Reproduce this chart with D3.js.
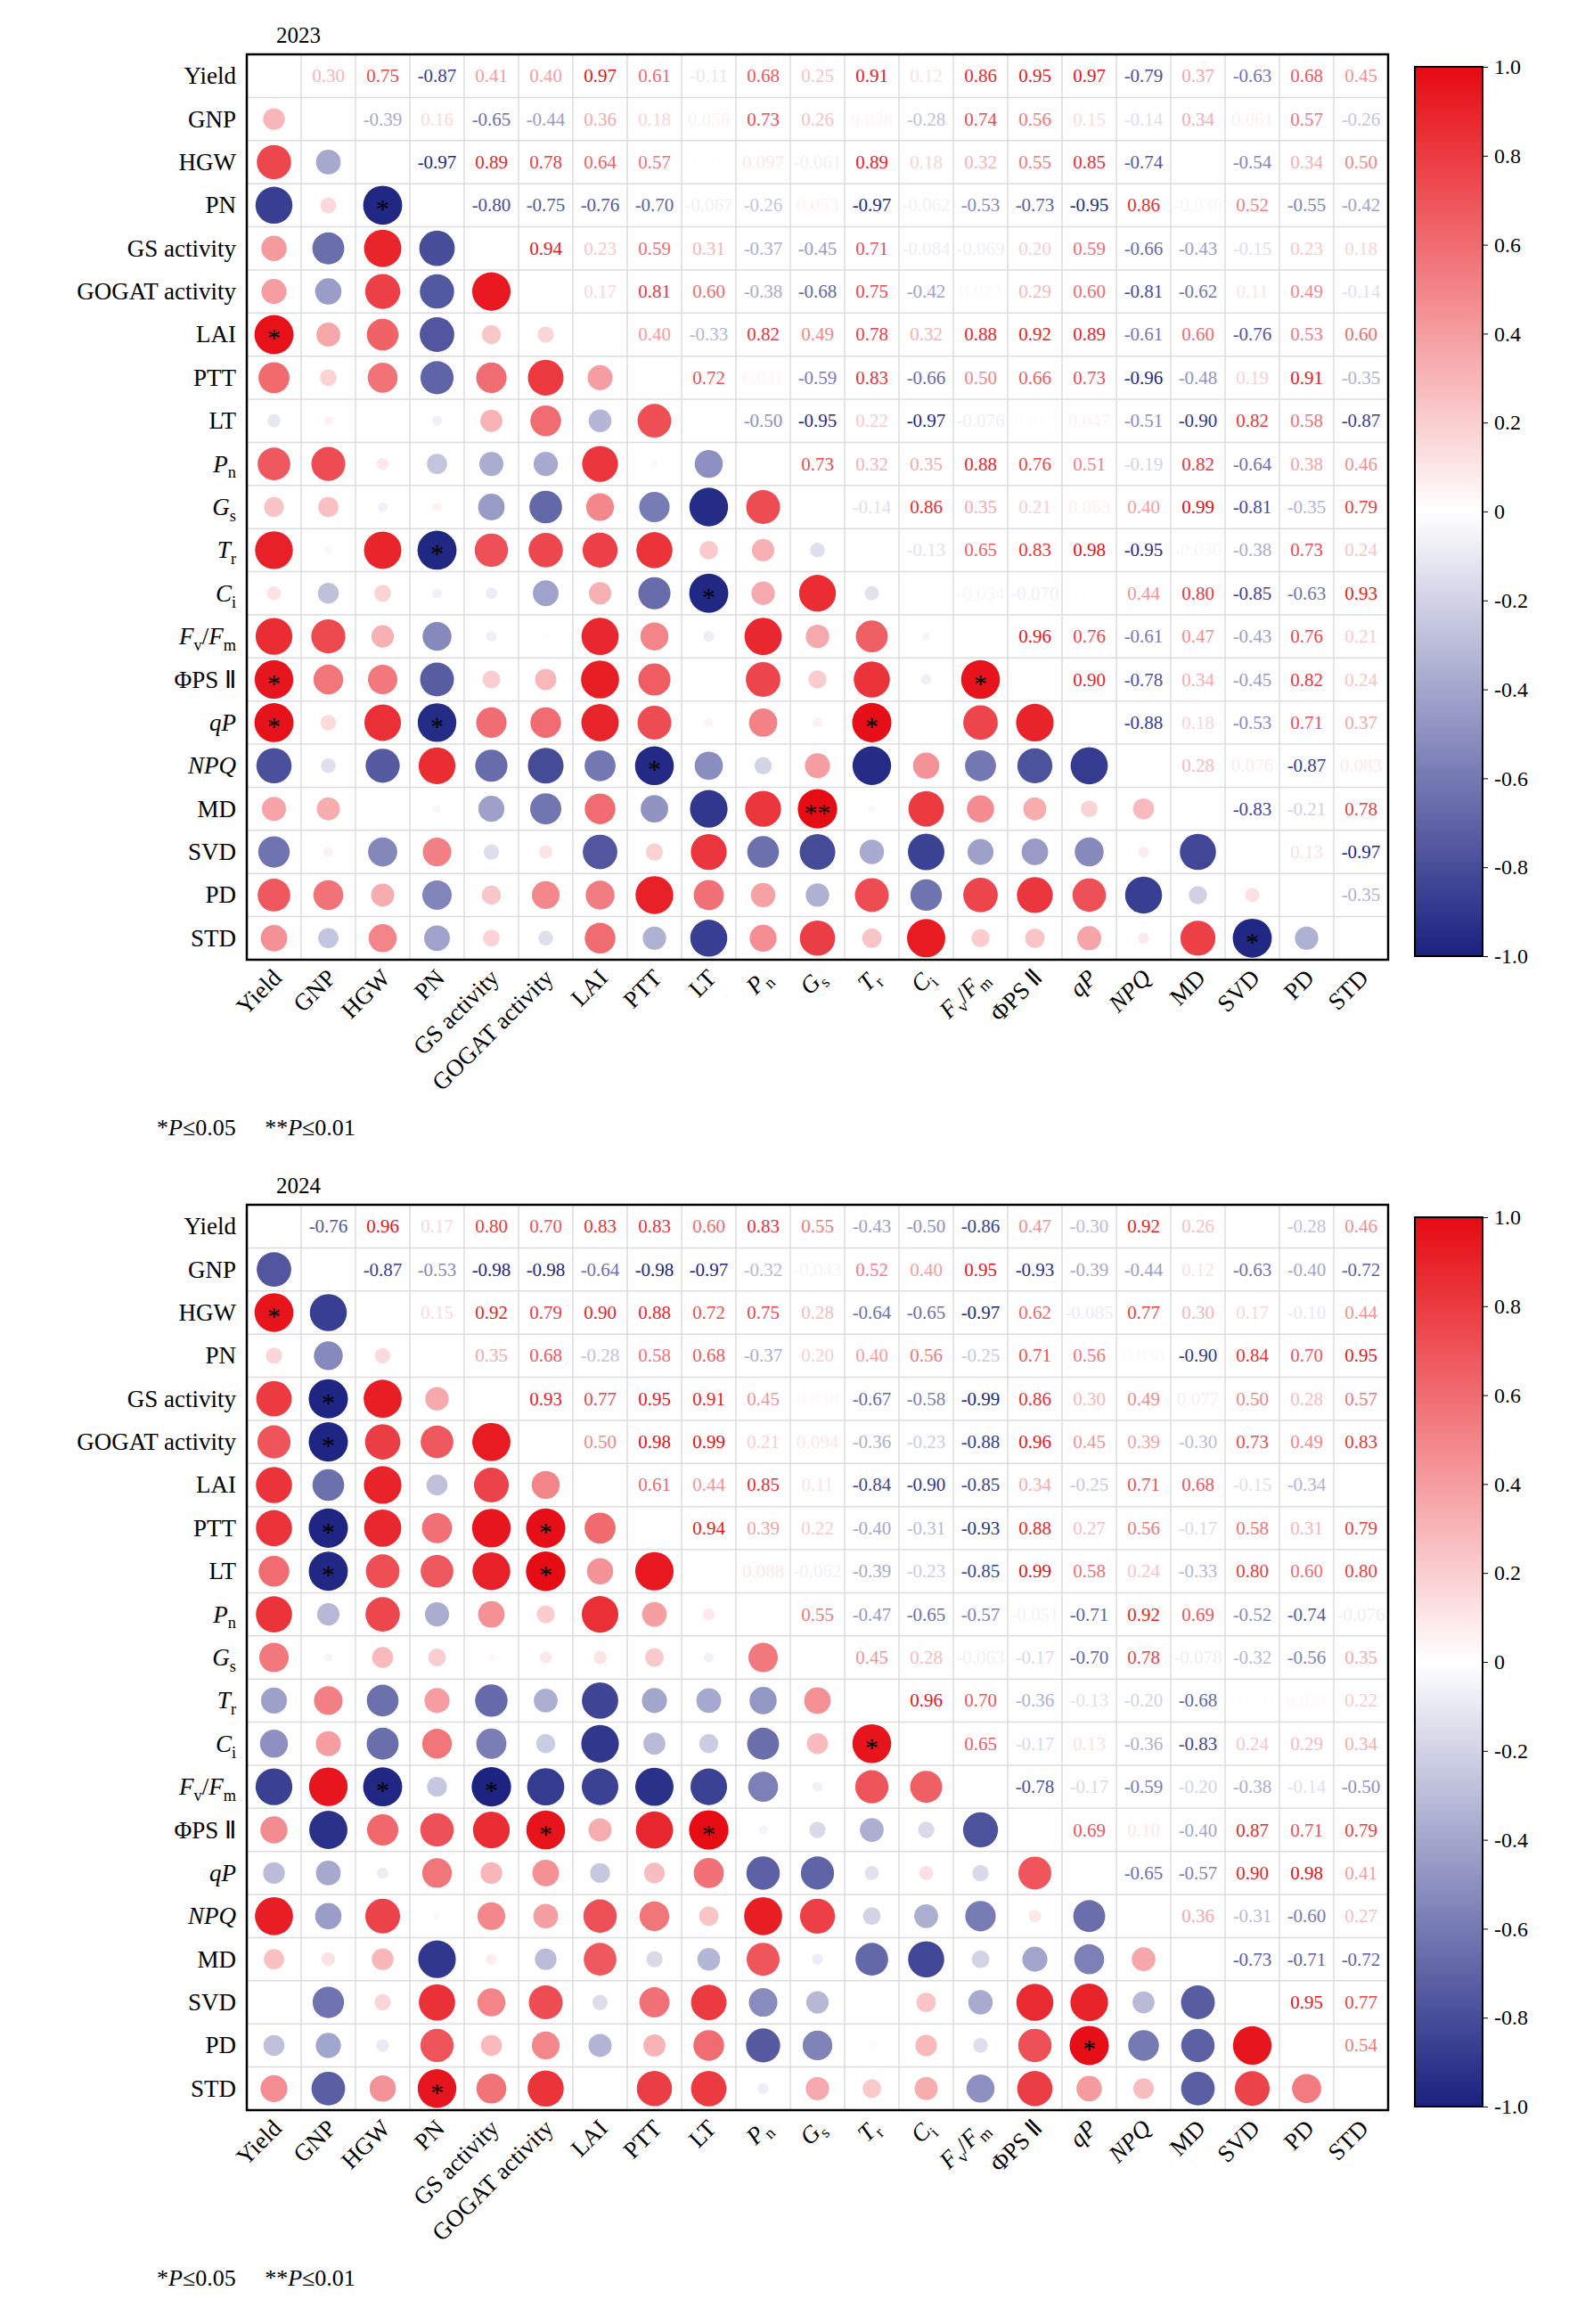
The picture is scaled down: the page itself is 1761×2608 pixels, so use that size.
<!DOCTYPE html>
<html>
<head>
<meta charset="utf-8">
<script src="https://cdn.jsdelivr.net/npm/d3@7"></script>
<style>
  body { margin: 0; background: #fff; }
  text { font-family: "Liberation Serif", "Times New Roman", serif; }
</style>
</head>
<body>
<svg id="chart" width="1761" height="2608"></svg>
<script>
// variable labels, rich parts: [text, "i" italic | "s" subscript | "n" normal]
const variables = ["Yield","GNP","HGW","PN","GS activity","GOGAT activity","LAI","PTT","LT","Pn","Gs","Tr","Ci","Fv/Fm","PSII","qP","NPQ","MD","SVD","PD","STD"];
const richLabels = {
  "Pn": [["P","i"],["n","s"]],
  "Gs": [["G","i"],["s","s"]],
  "Tr": [["T","i"],["r","s"]],
  "Ci": [["C","i"],["i","s"]],
  "Fv/Fm": [["F","i"],["v","s"],["/","n"],["F","i"],["m","s"]],
  "PSII": [["ΦPS Ⅱ","n"]],
  "qP": [["qP","i"]],
  "NPQ": [["NPQ","i"]]
};

// upper-triangle correlations, row i holds r(i, j) for j = i+1 .. 20
const r2023 = [
  [0.30,0.75,-0.87,0.41,0.40,0.97,0.61,-0.11,0.68,0.25,0.91,0.12,0.86,0.95,0.97,-0.79,0.37,-0.63,0.68,0.45],
  [-0.39,0.16,-0.65,-0.44,0.36,0.18,0.056,0.73,0.26,0.038,-0.28,0.74,0.56,0.15,-0.14,0.34,0.061,0.57,-0.26],
  [-0.97,0.89,0.78,0.64,0.57,0.009,0.097,-0.061,0.89,0.18,0.32,0.55,0.85,-0.74,0.005,-0.54,0.34,0.50],
  [-0.80,-0.75,-0.76,-0.70,-0.067,-0.26,0.053,-0.97,-0.062,-0.53,-0.73,-0.95,0.86,-0.036,0.52,-0.55,-0.42],
  [0.94,0.23,0.59,0.31,-0.37,-0.45,0.71,-0.084,-0.069,0.20,0.59,-0.66,-0.43,-0.15,0.23,0.18],
  [0.17,0.81,0.60,-0.38,-0.68,0.75,-0.42,0.023,0.29,0.60,-0.81,-0.62,0.11,0.49,-0.14],
  [0.40,-0.33,0.82,0.49,0.78,0.32,0.88,0.92,0.89,-0.61,0.60,-0.76,0.53,0.60],
  [0.72,0.031,-0.59,0.83,-0.66,0.50,0.66,0.73,-0.96,-0.48,0.19,0.91,-0.35],
  [-0.50,-0.95,0.22,-0.97,-0.076,0.012,0.047,-0.51,-0.90,0.82,0.58,-0.87],
  [0.73,0.32,0.35,0.88,0.76,0.51,-0.19,0.82,-0.64,0.38,0.46],
  [-0.14,0.86,0.35,0.21,0.063,0.40,0.99,-0.81,-0.35,0.79],
  [-0.13,0.65,0.83,0.98,-0.95,-0.030,-0.38,0.73,0.24],
  [-0.034,-0.070,0.004,0.44,0.80,-0.85,-0.63,0.93],
  [0.96,0.76,-0.61,0.47,-0.43,0.76,0.21],
  [0.90,-0.78,0.34,-0.45,0.82,0.24],
  [-0.88,0.18,-0.53,0.71,0.37],
  [0.28,0.076,-0.87,0.083],
  [-0.83,-0.21,0.78],
  [0.13,-0.97],
  [-0.35]
];
const r2024 = [
  [-0.76,0.96,0.17,0.80,0.70,0.83,0.83,0.60,0.83,0.55,-0.43,-0.50,-0.86,0.47,-0.30,0.92,0.26,0.010,-0.28,0.46],
  [-0.87,-0.53,-0.98,-0.98,-0.64,-0.98,-0.97,-0.32,-0.043,0.52,0.40,0.95,-0.93,-0.39,-0.44,0.12,-0.63,-0.40,-0.72],
  [0.15,0.92,0.79,0.90,0.88,0.72,0.75,0.28,-0.64,-0.65,-0.97,0.62,-0.085,0.77,0.30,0.17,-0.10,0.44],
  [0.35,0.68,-0.28,0.58,0.68,-0.37,0.20,0.40,0.56,-0.25,0.71,0.56,0.030,-0.90,0.84,0.70,0.95],
  [0.93,0.77,0.95,0.91,0.45,0.030,-0.67,-0.58,-0.99,0.86,0.30,0.49,0.077,0.50,0.28,0.57],
  [0.50,0.98,0.99,0.21,0.094,-0.36,-0.23,-0.88,0.96,0.45,0.39,-0.30,0.73,0.49,0.83],
  [0.61,0.44,0.85,0.11,-0.84,-0.90,-0.85,0.34,-0.25,0.71,0.68,-0.15,-0.34,0.004],
  [0.94,0.39,0.22,-0.40,-0.31,-0.93,0.88,0.27,0.56,-0.17,0.58,0.31,0.79],
  [0.088,-0.062,-0.39,-0.23,-0.85,0.99,0.58,0.24,-0.33,0.80,0.60,0.80],
  [0.55,-0.47,-0.65,-0.57,-0.051,-0.71,0.92,0.69,-0.52,-0.74,-0.076],
  [0.45,0.28,-0.063,-0.17,-0.70,0.78,-0.078,-0.32,-0.56,0.35],
  [0.96,0.70,-0.36,-0.13,-0.20,-0.68,0.010,0.027,0.22],
  [0.65,-0.17,0.13,-0.36,-0.83,0.24,0.29,0.34],
  [-0.78,-0.17,-0.59,-0.20,-0.38,-0.14,-0.50],
  [0.69,0.10,-0.40,0.87,0.71,0.79],
  [-0.65,-0.57,0.90,0.98,0.41],
  [0.36,-0.31,-0.60,0.27],
  [-0.73,-0.71,-0.72],
  [0.95,0.77],
  [0.54]
];
// significance marks in the lower triangle: [row, col, mark]
const sig2023 = [[3,2,"*"],[6,0,"*"],[11,3,"*"],[12,8,"*"],[14,0,"*"],[14,13,"*"],[15,0,"*"],[15,3,"*"],[15,11,"*"],[16,7,"*"],[17,10,"**"],[20,18,"*"]];
const sig2024 = [[2,0,"*"],[4,1,"*"],[5,1,"*"],[7,1,"*"],[8,1,"*"],[7,5,"*"],[8,5,"*"],[13,2,"*"],[13,4,"*"],[14,5,"*"],[14,8,"*"],[12,11,"*"],[19,15,"*"],[20,3,"*"]];
const colorTicks = [1.0,0.8,0.6,0.4,0.2,0,-0.2,-0.4,-0.6,-0.8,-1.0];

const svg = d3.select("#chart");
const color = d3.scaleLinear().domain([-1,0,1]).range(["#1a2180","#ffffff","#e60a12"]);

function fmt(v) {
  let a = Math.abs(v);
  let s = a < 0.1 ? a.toFixed(3) : a.toFixed(2);
  return (v < 0 ? "-" : "") + s;
}

function addLabel(sel, name, size) {
  let parts = richLabels[name] || [[name,"n"]];
  let shifted = false;
  parts.forEach(p => {
    let t = sel.append("tspan").text(p[0]);
    if (p[1] === "i") t.style("font-style","italic");
    if (p[1] === "s") {
      t.attr("font-size", size*0.68).attr("dy", size*0.25);
      shifted = true;
    } else if (shifted) {
      t.attr("dy", -size*0.25);
      shifted = false;
    }
  });
}

function drawMatrix(top, year, rows, sigs) {
  const left = 277, right = 1558, bottom = top + 1016;
  const n = variables.length;
  const x = d3.scaleBand().domain(d3.range(n)).range([left, right]);
  const y = d3.scaleBand().domain(d3.range(n)).range([top, bottom]);
  const cw = x.bandwidth(), ch = y.bandwidth();
  const rad = d3.scaleSqrt().domain([0,1]).range([0, ch*0.46]);

  const cells = [];
  rows.forEach((row, i) => row.forEach((v, k) => {
    cells.push({i: i, j: i+k+1, v: v});
  }));

  const g = svg.append("g");
  // grid
  g.selectAll(".vl").data(d3.range(1,n)).join("line")
    .attr("x1", d => x(d)).attr("x2", d => x(d)).attr("y1", top).attr("y2", bottom)
    .attr("stroke","#dcdcdc").attr("stroke-width",1.5);
  g.selectAll(".hl").data(d3.range(1,n)).join("line")
    .attr("y1", d => y(d)).attr("y2", d => y(d)).attr("x1", left).attr("x2", right)
    .attr("stroke","#dcdcdc").attr("stroke-width",1.5);

  // upper: numbers
  g.selectAll(".val").data(cells).join("text")
    .attr("x", d => x(d.j) + cw/2).attr("y", d => y(d.i) + ch/2 + 7)
    .attr("text-anchor","middle").attr("font-size",21)
    .attr("fill", d => color(d.v)).text(d => fmt(d.v));

  // lower: circles
  g.selectAll(".dot").data(cells).join("circle")
    .attr("cx", d => x(d.i) + cw/2).attr("cy", d => y(d.j) + ch/2)
    .attr("r", d => rad(Math.abs(d.v))).attr("fill", d => color(d.v));

  g.selectAll(".sig").data(sigs).join("text")
    .attr("x", d => x(d[1]) + cw/2).attr("y", d => y(d[0]) + ch/2 + 14)
    .attr("text-anchor","middle").attr("font-size",30).attr("fill","#000")
    .text(d => d[2]);

  g.append("rect").attr("x",left).attr("y",top).attr("width",right-left).attr("height",bottom-top)
    .attr("fill","none").attr("stroke","#000").attr("stroke-width",2.5);

  // row labels
  variables.forEach((name, i) => {
    let t = g.append("text").attr("x", left - 12).attr("y", y(i) + ch/2 + 9)
      .attr("text-anchor","end").attr("font-size",27);
    addLabel(t, name, 27);
  });
  // column labels
  variables.forEach((name, i) => {
    let cx = x(i) + cw/2 + 10, cy = bottom + 22;
    let t = g.append("text").attr("transform", `translate(${cx},${cy}) rotate(-45)`)
      .attr("text-anchor","end").attr("font-size",27);
    addLabel(t, name, 27);
  });

  g.append("text").attr("x", 310).attr("y", top - 13).attr("font-size",25).text(year);

  // colour bar
  const bx = 1588, bw = 76, btop = top + 14, bbot = bottom - 4;
  const cy = d3.scaleLinear().domain([1,-1]).range([btop, bbot]);
  const gid = "grad" + year;
  const grad = svg.append("defs").append("linearGradient").attr("id", gid)
    .attr("x1",0).attr("x2",0).attr("y1",0).attr("y2",1);
  [[0,color(1)],[0.5,color(0)],[1,color(-1)]].forEach(s =>
    grad.append("stop").attr("offset", s[0]).attr("stop-color", s[1]));
  g.append("rect").attr("x",bx).attr("y",btop).attr("width",bw).attr("height",bbot-btop)
    .attr("fill",`url(#${gid})`).attr("stroke","#000").attr("stroke-width",2);
  const axis = d3.axisRight(cy).tickValues(colorTicks).tickSize(6)
    .tickFormat(d => d === 0 ? "0" : d.toFixed(1));
  const ag = g.append("g").attr("transform", `translate(${bx+bw},0)`).call(axis);
  ag.select(".domain").remove();
  ag.selectAll("text").attr("font-size",24).attr("font-family","Liberation Serif").attr("dx",4);

  // note
  const note = g.append("text").attr("x",176).attr("y", bottom + 197).attr("font-size",26);
  note.append("tspan").text("*");
  note.append("tspan").text("P").style("font-style","italic");
  note.append("tspan").text("≤0.05\u00a0\u00a0\u00a0\u00a0\u00a0**");
  note.append("tspan").text("P").style("font-style","italic");
  note.append("tspan").text("≤0.01");
}

drawMatrix(61, "2023", r2023, sig2023);
drawMatrix(1352, "2024", r2024, sig2024);
</script>
</body>
</html>
